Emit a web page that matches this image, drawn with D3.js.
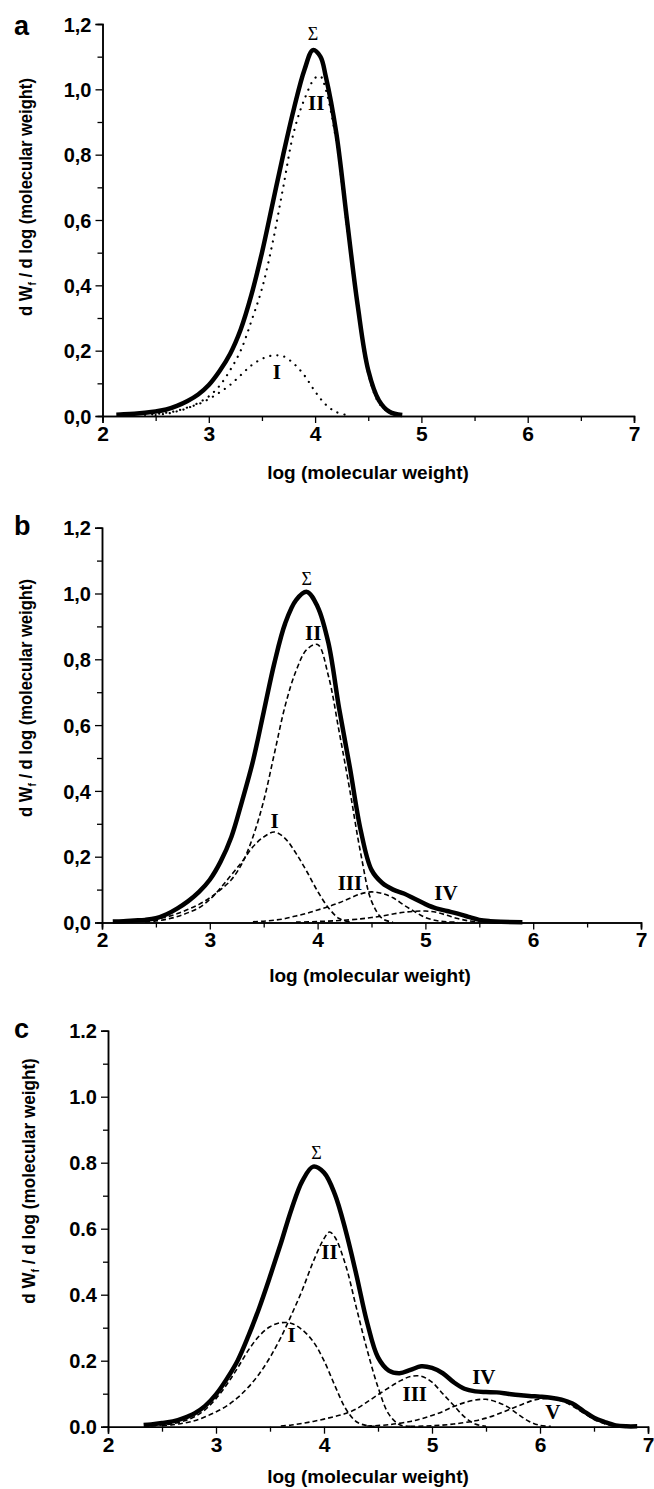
<!DOCTYPE html>
<html>
<head>
<meta charset="utf-8">
<script src="https://cdn.jsdelivr.net/npm/d3@7"></script>
<style>
  body { margin: 0; background: #fff; }
  svg { display: block; }
  .tick text { font-family: "Liberation Sans", Arial, sans-serif; font-weight: bold; }
</style>
</head>
<body>
<svg id="chart" width="654" height="1489"></svg>
<script>
// ---- data ----
var xTicks = [2, 3, 4, 5, 6, 7]
var xMinor = [2.5, 3.5, 4.5, 5.5, 6.5]
var yTicks = [0, 0.2, 0.4, 0.6, 0.8, 1.0, 1.2]
var yMinor = [0.1, 0.3, 0.5, 0.7, 0.9, 1.1]

// panel a
var aSum = [[2.13,0.004],[2.2,0.005],[2.3,0.007],[2.4,0.01],[2.5,0.014],[2.6,0.02],[2.7,0.031],[2.8,0.046],[2.9,0.066],[3.0,0.095],[3.1,0.137],[3.2,0.19],[3.3,0.265],[3.4,0.37],[3.5,0.5],[3.6,0.65],[3.7,0.8],[3.8,0.94],[3.9,1.06],[3.98,1.12],[4.05,1.1],[4.1,1.04],[4.2,0.865],[4.3,0.6],[4.4,0.34],[4.5,0.14],[4.6,0.048],[4.7,0.013],[4.82,0.003]]
var aI = [[2.4,0.003],[2.5,0.006],[2.6,0.01],[2.7,0.016],[2.8,0.026],[2.9,0.036],[3.0,0.052],[3.1,0.072],[3.2,0.095],[3.3,0.125],[3.4,0.155],[3.5,0.175],[3.6,0.185],[3.7,0.183],[3.8,0.16],[3.9,0.124],[4.0,0.075],[4.1,0.035],[4.2,0.012],[4.3,0.003]]
var aII = [[2.5,0.003],[2.6,0.007],[2.7,0.014],[2.8,0.024],[2.9,0.04],[3.0,0.06],[3.1,0.092],[3.2,0.14],[3.3,0.2],[3.4,0.29],[3.5,0.39],[3.6,0.53],[3.7,0.7],[3.8,0.87],[3.9,0.97],[4.0,1.035],[4.05,1.04],[4.1,1.0],[4.2,0.84],[4.3,0.58],[4.4,0.33],[4.5,0.13],[4.6,0.04],[4.7,0.01],[4.8,0.002]]

// panel b
var bSum = [[2.1,0.003],[2.2,0.004],[2.3,0.006],[2.4,0.008],[2.5,0.013],[2.6,0.025],[2.7,0.043],[2.8,0.065],[2.9,0.093],[3.0,0.13],[3.1,0.185],[3.2,0.26],[3.3,0.37],[3.4,0.49],[3.5,0.64],[3.6,0.79],[3.7,0.91],[3.8,0.98],[3.9,1.005],[4.0,0.96],[4.1,0.85],[4.2,0.65],[4.3,0.47],[4.4,0.28],[4.5,0.16],[4.6,0.12],[4.7,0.1],[4.8,0.088],[4.9,0.072],[5.0,0.056],[5.1,0.043],[5.2,0.035],[5.3,0.027],[5.4,0.017],[5.5,0.008],[5.6,0.004],[5.7,0.002],[5.9,0.001]]
var bI = [[2.4,0.002],[2.5,0.005],[2.6,0.01],[2.7,0.018],[2.8,0.03],[2.9,0.045],[3.0,0.07],[3.1,0.105],[3.2,0.145],[3.3,0.185],[3.4,0.23],[3.5,0.26],[3.6,0.275],[3.7,0.255],[3.8,0.21],[3.9,0.155],[4.0,0.095],[4.1,0.045],[4.2,0.012],[4.3,0.002]]
var bII = [[2.4,0.005],[2.5,0.01],[2.6,0.017],[2.7,0.027],[2.8,0.04],[2.9,0.055],[3.0,0.075],[3.1,0.1],[3.2,0.13],[3.3,0.18],[3.4,0.26],[3.5,0.37],[3.6,0.515],[3.7,0.66],[3.8,0.765],[3.9,0.83],[4.0,0.845],[4.1,0.75],[4.2,0.58],[4.3,0.4],[4.4,0.21],[4.5,0.065],[4.6,0.012],[4.7,0.001]]
var bIII = [[3.4,0.002],[3.5,0.004],[3.6,0.007],[3.7,0.012],[3.8,0.02],[3.9,0.028],[4.0,0.038],[4.1,0.048],[4.2,0.06],[4.3,0.074],[4.4,0.087],[4.5,0.093],[4.6,0.088],[4.7,0.075],[4.8,0.053],[4.9,0.033],[5.0,0.015],[5.1,0.006],[5.2,0.002],[5.3,0.001]]
var bIV = [[3.8,0.001],[4.0,0.003],[4.2,0.006],[4.4,0.011],[4.5,0.015],[4.6,0.02],[4.7,0.026],[4.8,0.031],[4.9,0.034],[5.0,0.035],[5.1,0.031],[5.2,0.022],[5.3,0.012],[5.4,0.005],[5.5,0.001]]

// panel c
var cSum = [[2.33,0.005],[2.4,0.007],[2.5,0.011],[2.6,0.016],[2.7,0.026],[2.8,0.04],[2.9,0.063],[3.0,0.098],[3.1,0.145],[3.2,0.2],[3.3,0.275],[3.4,0.36],[3.5,0.455],[3.6,0.555],[3.7,0.66],[3.8,0.745],[3.9,0.788],[4.0,0.77],[4.1,0.705],[4.2,0.595],[4.3,0.46],[4.4,0.315],[4.5,0.21],[4.6,0.17],[4.7,0.162],[4.8,0.172],[4.9,0.183],[5.0,0.178],[5.1,0.162],[5.2,0.135],[5.3,0.115],[5.4,0.107],[5.5,0.105],[5.6,0.104],[5.7,0.1],[5.8,0.096],[5.9,0.093],[6.0,0.091],[6.1,0.088],[6.2,0.082],[6.3,0.07],[6.4,0.048],[6.5,0.027],[6.6,0.014],[6.7,0.004],[6.8,0.001],[6.9,0.001]]
var cI = [[2.4,0.002],[2.5,0.005],[2.6,0.009],[2.7,0.017],[2.8,0.03],[2.9,0.052],[3.0,0.085],[3.1,0.128],[3.2,0.178],[3.3,0.232],[3.4,0.275],[3.5,0.303],[3.6,0.315],[3.7,0.313],[3.8,0.293],[3.9,0.258],[4.0,0.2],[4.1,0.125],[4.2,0.055],[4.3,0.015],[4.4,0.003],[4.5,0.001]]
var cII = [[2.5,0.003],[2.6,0.006],[2.7,0.011],[2.8,0.018],[2.9,0.03],[3.0,0.045],[3.1,0.063],[3.2,0.088],[3.3,0.12],[3.4,0.16],[3.5,0.21],[3.6,0.27],[3.7,0.34],[3.8,0.415],[3.9,0.5],[4.0,0.57],[4.05,0.59],[4.1,0.575],[4.2,0.49],[4.3,0.36],[4.4,0.232],[4.5,0.12],[4.6,0.038],[4.7,0.006],[4.8,0.001]]
var cIII = [[3.6,0.002],[3.7,0.005],[3.8,0.01],[3.9,0.016],[4.0,0.023],[4.1,0.031],[4.2,0.04],[4.3,0.054],[4.4,0.075],[4.5,0.097],[4.6,0.118],[4.7,0.138],[4.8,0.152],[4.9,0.153],[5.0,0.135],[5.1,0.1],[5.2,0.065],[5.3,0.03],[5.4,0.008],[5.5,0.001]]
var cIV = [[4.4,0.002],[4.6,0.006],[4.8,0.016],[4.9,0.024],[5.0,0.034],[5.1,0.046],[5.2,0.061],[5.3,0.073],[5.4,0.081],[5.5,0.083],[5.6,0.075],[5.7,0.06],[5.8,0.037],[5.9,0.016],[6.0,0.004],[6.1,0.001]]
var cV = [[4.8,0.001],[5.0,0.003],[5.2,0.008],[5.4,0.018],[5.5,0.026],[5.6,0.037],[5.7,0.05],[5.8,0.063],[5.9,0.076],[6.0,0.084],[6.1,0.085],[6.2,0.078],[6.3,0.063],[6.4,0.042],[6.5,0.022],[6.6,0.009],[6.7,0.002],[6.8,0.001]]

// curve labels [text, x, y] in data units
var aLabels = [["Σ",3.98,1.17],["II",4.01,0.96],["I",3.64,0.135]]
var bLabels = [["Σ",3.9,1.045],["II",3.96,0.88],["I",3.6,0.31],["III",4.3,0.12],["IV",5.19,0.09]]
var cLabels = [["Σ",3.93,0.83],["II",4.05,0.53],["I",3.7,0.278],["III",4.84,0.1],["IV",5.48,0.152],["V",6.12,0.045]]

// ---- layout ----
var panels = [
  {letter: "a", sum: aSum, parts: [aI, aII], labels: aLabels, dash: "0.1,7", comma: true,
   x0: 102.5, x1: 634, yTop: 24, yBot: 416, letterY: 35, yTitleX: 32, yTitleY: 197, xTitleX: 368, xTitleY: 479},
  {letter: "b", sum: bSum, parts: [bI, bII, bIII, bIV], labels: bLabels, dash: "5,3", comma: true,
   x0: 102, x1: 641, yTop: 527.7, yBot: 922.5, letterY: 535, yTitleX: 32, yTitleY: 698, xTitleX: 370, xTitleY: 982},
  {letter: "c", sum: cSum, parts: [cI, cII, cIII, cIV, cV], labels: cLabels, dash: "5,3", comma: false,
   x0: 108, x1: 648, yTop: 1030.7, yBot: 1426.7, letterY: 1038, yTitleX: 35, yTitleY: 1181, xTitleX: 368, xTitleY: 1483}
]

var svg = d3.select("#chart")

panels.forEach(function(p){

    var x = d3.scaleLinear().domain([2, 7]).range([p.x0, p.x1])
    var y = d3.scaleLinear().domain([0, 1.2]).range([p.yBot, p.yTop])
    var fmt = d3.format(".1f")
    var yFmt = function(d){ return p.comma ? fmt(d).replace(".", ",") : fmt(d) }

    var g = svg.append("g")

    // minor ticks first
    g.append("g").attr("transform", "translate(0," + p.yBot + ")")
        .call(d3.axisBottom(x).tickValues(xMinor).tickSize(5).tickFormat(""))
    g.append("g").attr("transform", "translate(" + p.x0 + ",0)")
        .call(d3.axisLeft(y).tickValues(yMinor).tickSize(5).tickFormat(""))

    var xAxis = g.append("g").attr("transform", "translate(0," + p.yBot + ")")
        .call(d3.axisBottom(x).tickValues(xTicks).tickSize(7).tickPadding(3).tickFormat(d3.format("d")))
    xAxis.selectAll("text").style("font-size", "21px")

    var yAxis = g.append("g").attr("transform", "translate(" + p.x0 + ",0)")
        .call(d3.axisLeft(y).tickValues(yTicks).tickSize(7).tickPadding(4).tickFormat(yFmt))
    yAxis.selectAll("text").style("font-size", "20px").attr("dy", "0.36em")

    g.selectAll(".domain").attr("stroke-width", 1.5)
    g.selectAll(".tick line").attr("stroke-width", 1.3)

    var line = d3.line()
        .x(function(d){ return x(d[0]) })
        .y(function(d){ return y(d[1]) })
        .curve(d3.curveCatmullRom.alpha(0.5))

    p.parts.forEach(function(s){
        g.append("path").datum(s)
            .attr("d", line)
            .attr("fill", "none")
            .attr("stroke", "#000")
            .attr("stroke-width", p.letter == "a" ? 2.2 : 1.6)
            .attr("stroke-linecap", p.letter == "a" ? "round" : "butt")
            .attr("stroke-dasharray", p.dash)
    })

    g.append("path").datum(p.sum)
        .attr("d", line)
        .attr("fill", "none")
        .attr("stroke", "#000")
        .attr("stroke-width", 4.5)
        .attr("stroke-linejoin", "round")

    g.selectAll(".clabel").data(p.labels).enter().append("text")
        .attr("x", function(d){ return x(d[1]) })
        .attr("y", function(d){ return y(d[2]) })
        .attr("text-anchor", "middle")
        .attr("dy", "0.35em")
        .attr("font-family", "'Liberation Serif', 'Times New Roman', serif")
        .attr("font-weight", function(d){ return d[0] == "Σ" ? "normal" : "bold" })
        .attr("font-size", function(d){ return d[0] == "Σ" ? "18px" : "21px" })
        .text(function(d){ return d[0] })

    // panel letter
    g.append("text")
        .attr("x", 14).attr("y", p.letterY)
        .attr("font-family", "'Liberation Sans', Arial, sans-serif")
        .attr("font-weight", "bold").attr("font-size", "27px")
        .text(p.letter)

    // axis titles
    g.append("text")
        .attr("x", p.xTitleX)
        .attr("y", p.xTitleY)
        .attr("text-anchor", "middle")
        .attr("font-family", "'Liberation Sans', Arial, sans-serif")
        .attr("font-weight", "bold").attr("font-size", "19px")
        .text("log (molecular weight)")

    var yt = g.append("text")
        .attr("transform", "translate(" + p.yTitleX + "," + p.yTitleY + ") rotate(-90) scale(" + (p.letter == "c" ? 0.95 : 0.92) + ",1)")
        .attr("text-anchor", "middle")
        .attr("font-family", "'Liberation Sans', Arial, sans-serif")
        .attr("font-weight", "bold").attr("font-size", "18px")
    yt.append("tspan").text("d W")
    yt.append("tspan").attr("font-size", "11px").attr("dy", "4").text("f")
    yt.append("tspan").attr("dy", "-4").text(" / d log (molecular weight)")
})
</script>
</body>
</html>
